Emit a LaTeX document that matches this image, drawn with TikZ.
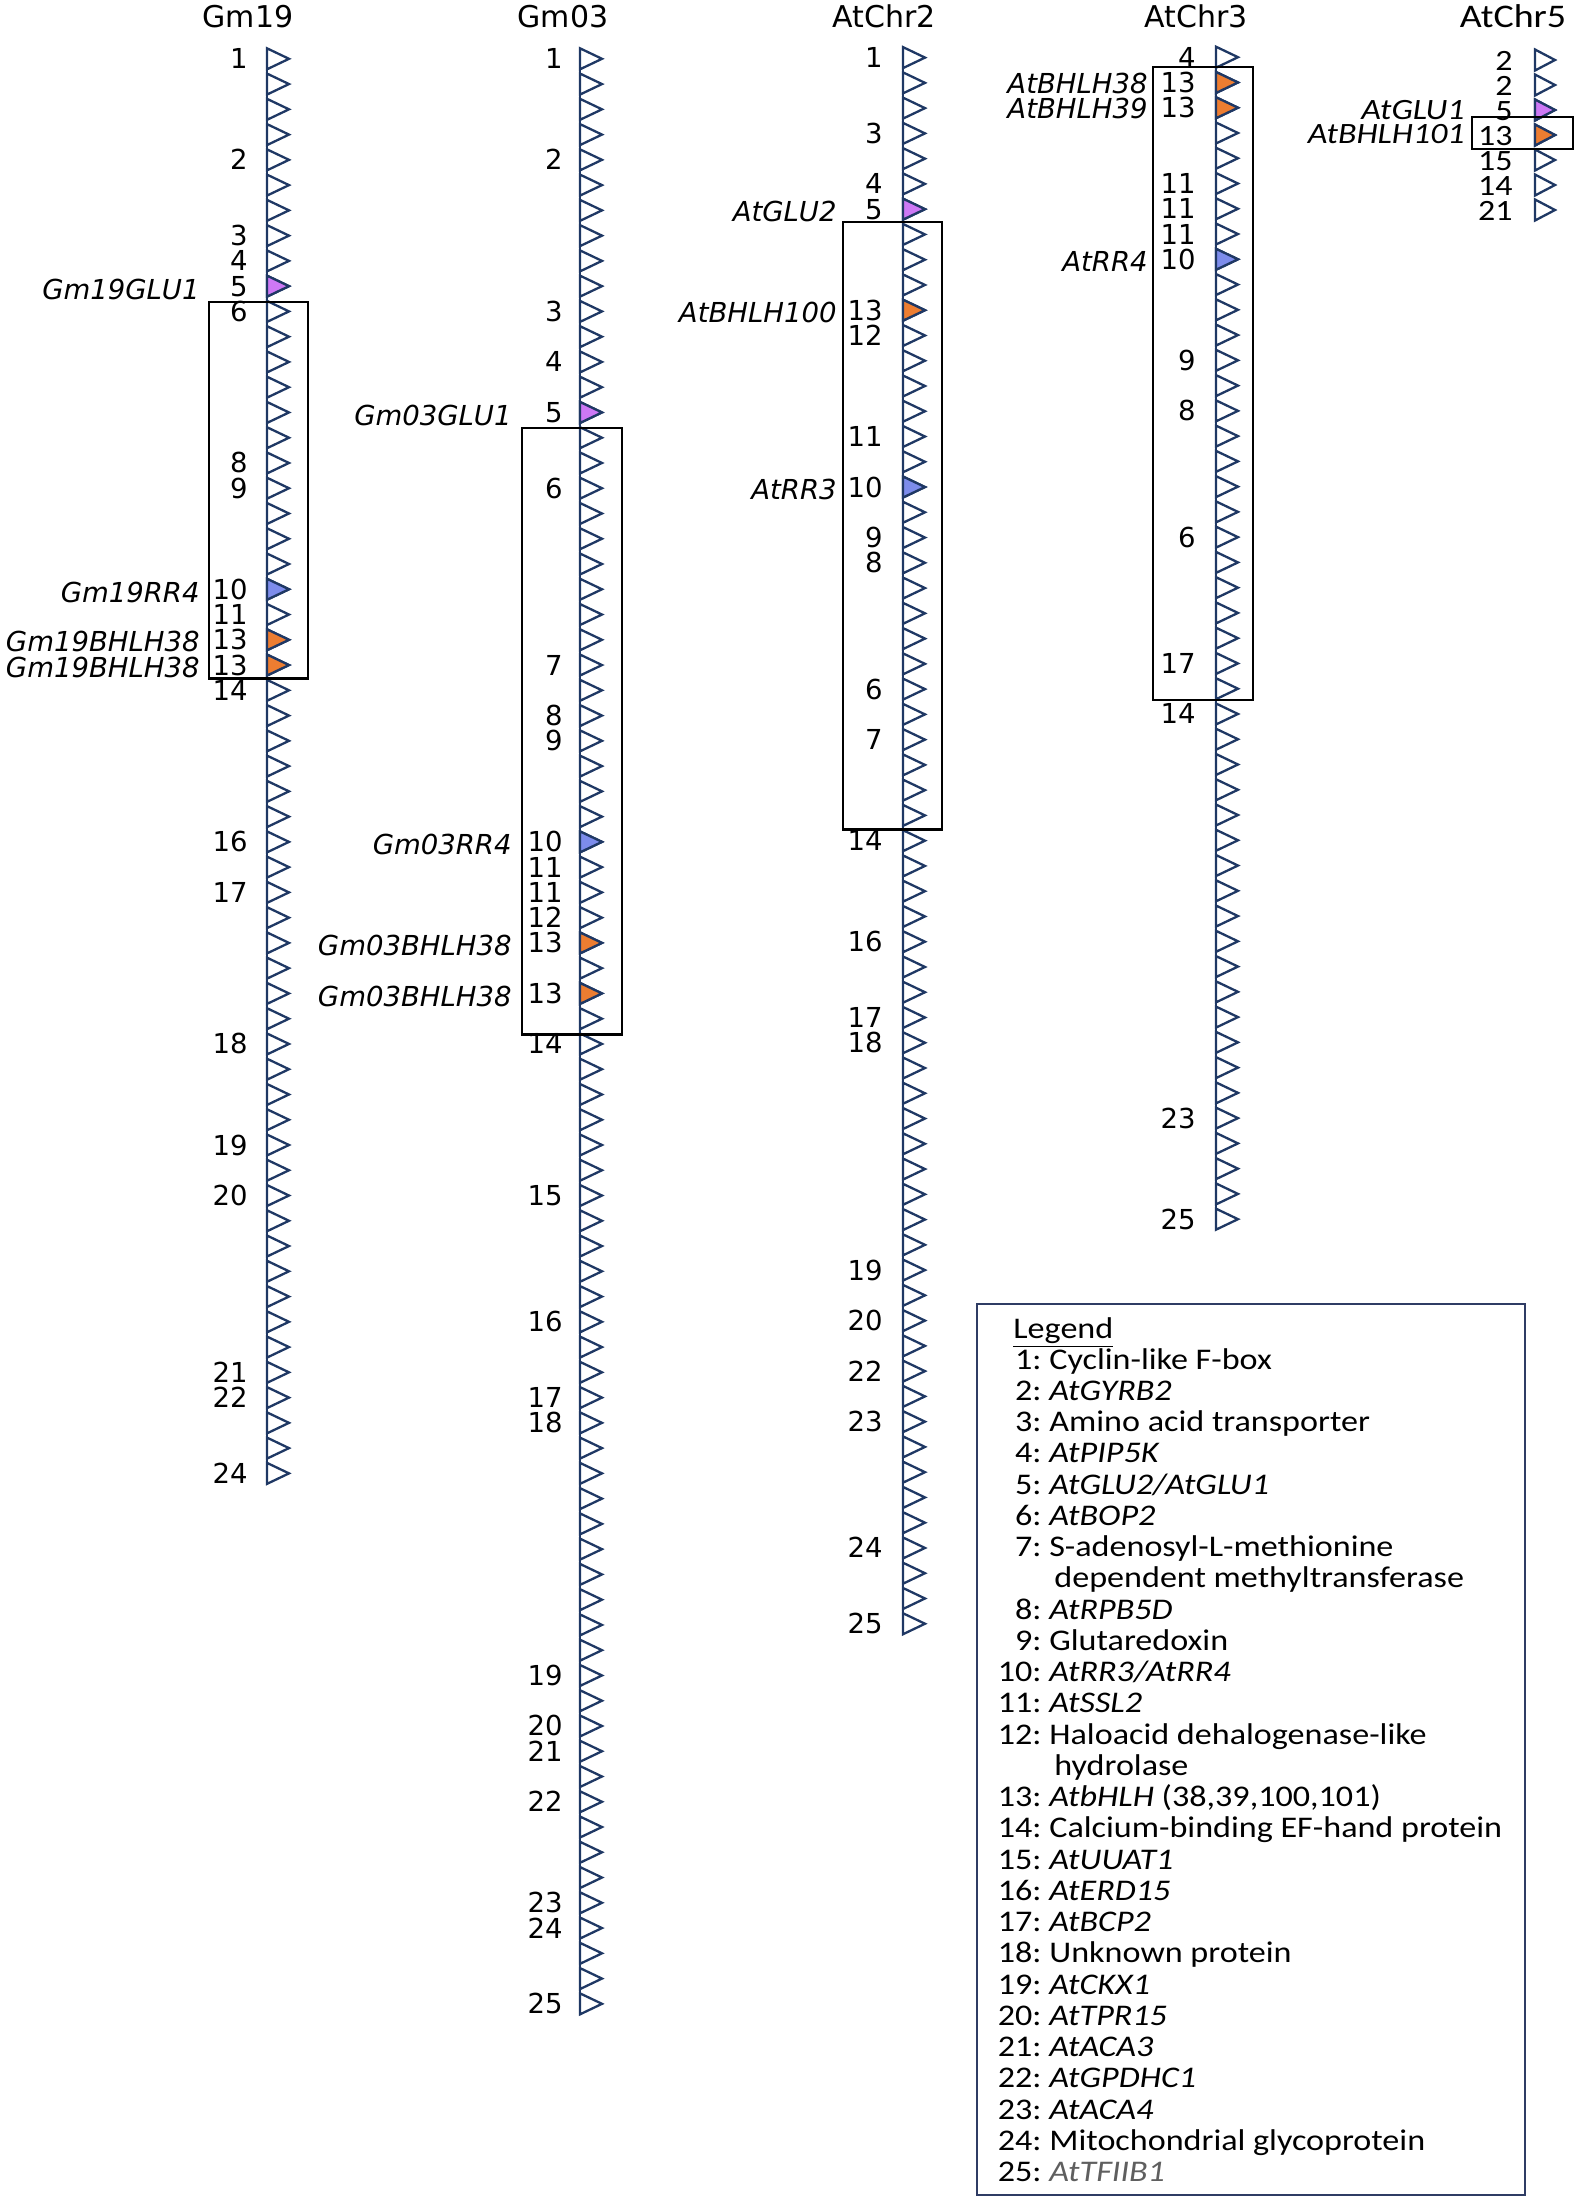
\documentclass[tikz,border=0pt]{standalone}
\usepackage{fontspec}
\newfontfamily\dvfont{DejaVu Sans}
\newfontfamily\calfont[FakeStretch=1.15]{Carlito}
\newfontfamily\legfont[FakeStretch=1.137]{Carlito}
\definecolor{navy}{RGB}{31,56,100}
\definecolor{glucol}{RGB}{205,120,245}
\definecolor{rrcol}{RGB}{125,140,235}
\definecolor{bhcol}{RGB}{237,125,49}
\definecolor{legframe}{RGB}{47,60,100}
\definecolor{leggray}{RGB}{95,95,95}
\newcommand{\tricolumn}[6]{%
  \foreach \k in {0,...,#4}{%
    \draw[tri] (#1,{#2+\k*#3-#6}) -- (#1+#5,{#2+\k*#3}) -- (#1,{#2+\k*#3+#6}) -- cycle;}}
\newcommand{\ctri}[7]{%
  \draw[tri,fill=#7] (#1,{#2+#4*#3-#6}) -- (#1+#5,{#2+#4*#3}) -- (#1,{#2+#4*#3+#6}) -- cycle;}
\newcommand{\legitem}[3]{%
  \node[legnum] (ln#1) at (1042,{1338+#1*31.24}) {#2:};
  \node[legtxt] (lt#1) at (1049,{1338+#1*31.24}) {#3};}
\begin{document}
\begin{tikzpicture}[x=0.5pt,y=-0.5pt,
  tri/.style={draw=navy,line width=1.15pt,fill=white,line join=miter},
  spine/.style={draw=navy,line width=1.15pt},
  numlab/.style={anchor=east,inner sep=0pt,font=\dvfont\fontsize{13.75}{16}\selectfont,text height=10pt,text depth=0pt},
  genelab/.style={anchor=east,inner sep=0pt,font=\dvfont\itshape\fontsize{13.75}{16}\selectfont,text height=10pt,text depth=0pt},
  coltitle/.style={inner sep=0pt,font=\dvfont\fontsize{15}{18}\selectfont,text height=11pt,text depth=0pt},
  cnumlab/.style={anchor=east,inner sep=0pt,font=\calfont\fontsize{14.75}{17}\selectfont,text height=9.3pt,text depth=0pt},
  cgenelab/.style={anchor=east,inner sep=0pt,font=\calfont\itshape\fontsize{14.75}{17}\selectfont,text height=9.3pt,text depth=0pt},
  ctitle/.style={inner sep=0pt,font=\calfont\fontsize{16.5}{19}\selectfont,text height=10.6pt,text depth=0pt},
  blockbox/.style={draw=black,line width=1.3pt},
  legnum/.style={anchor=base east,inner sep=0pt,font=\legfont\fontsize{15}{18}\selectfont},
  legtxt/.style={anchor=base west,inner sep=0pt,font=\legfont\fontsize{15}{18}\selectfont}]
\useasboundingbox (0,0) rectangle (1576,2208);

% ---------------- Gm19 ----------------
\node[coltitle] (t19) at (248,16) {Gm19};
\draw[spine] (267,{58.8-10.5}) -- (267,{58.8+56*25.26+10.5});
\tricolumn{267}{58.8}{25.26}{56}{22}{10.5}
\ctri{267}{58.8}{25.26}{9}{22}{10.5}{glucol}
\ctri{267}{58.8}{25.26}{21}{22}{10.5}{rrcol}
\ctri{267}{58.8}{25.26}{23}{22}{10.5}{bhcol}
\ctri{267}{58.8}{25.26}{24}{22}{10.5}{bhcol}
\foreach \k/\t in {0/1,4/2,7/3,8/4,9/5,10/6,16/8,17/9,21/10,22/11,23/13,24/13,25/14,31/16,33/17,39/18,43/19,45/20,52/21,53/22,56/24}
  \node[numlab] (g19n\k) at (248,{58.8+\k*25.26}) {\t};
\node[genelab] (g19glu) at (200,{58.8+9*25.26+3}) {Gm19GLU1};
\node[genelab] (g19rr) at (200,{58.8+21*25.26+3}) {Gm19RR4};
\node[genelab] (g19bha) at (200,{58.8+23*25.26+2}) {Gm19BHLH38};
\node[genelab] (g19bhb) at (200,{58.8+24*25.26+2}) {Gm19BHLH38};
\draw[blockbox] (209,302) rectangle (308,678.6);

% ---------------- Gm03 ----------------
\node[coltitle] (t03) at (563,16) {Gm03};
\draw[spine] (580,{58.8-10.5}) -- (580,{58.8+77*25.26+10.5});
\tricolumn{580}{58.8}{25.26}{77}{22}{10.5}
\ctri{580}{58.8}{25.26}{14}{22}{10.5}{glucol}
\ctri{580}{58.8}{25.26}{31}{22}{10.5}{rrcol}
\ctri{580}{58.8}{25.26}{35}{22}{10.5}{bhcol}
\ctri{580}{58.8}{25.26}{37}{22}{10.5}{bhcol}
\foreach \k/\t in {0/1,4/2,10/3,12/4,14/5,17/6,24/7,26/8,27/9,31/10,32/11,33/11,34/12,35/13,37/13,39/14,45/15,50/16,53/17,54/18,64/19,66/20,67/21,69/22,73/23,74/24,77/25}
  \node[numlab] (g03n\k) at (563,{58.8+\k*25.26}) {\t};
\node[genelab] (g03glu) at (512,{58.8+14*25.26+3}) {Gm03GLU1};
\node[genelab] (g03rr) at (512,{58.8+31*25.26+3}) {Gm03RR4};
\node[genelab] (g03bha) at (512,{58.8+35*25.26+3}) {Gm03BHLH38};
\node[genelab] (g03bhb) at (512,{58.8+37*25.26+3}) {Gm03BHLH38};
\draw[blockbox] (522,428) rectangle (622,1034.5);

% ---------------- AtChr2 ----------------
\node[coltitle] (tc2) at (884,16) {AtChr2};
\draw[spine] (903,{57.6-10.5}) -- (903,{57.6+62*25.26+10.5});
\tricolumn{903}{57.6}{25.26}{62}{22}{10.5}
\ctri{903}{57.6}{25.26}{6}{22}{10.5}{glucol}
\ctri{903}{57.6}{25.26}{10}{22}{10.5}{bhcol}
\ctri{903}{57.6}{25.26}{17}{22}{10.5}{rrcol}
\foreach \k/\t in {0/1,3/3,5/4,6/5,10/13,11/12,15/11,17/10,19/9,20/8,25/6,27/7,31/14,35/16,38/17,39/18,48/19,50/20,52/22,54/23,59/24,62/25}
  \node[numlab] (c2n\k) at (883,{57.6+\k*25.26}) {\t};
\node[genelab] (c2glu) at (837,{57.6+6*25.26+2}) {AtGLU2};
\node[genelab] (c2bh) at (837,{57.6+10*25.26+2}) {AtBHLH100};
\node[genelab] (c2rr) at (837,{57.6+17*25.26+2}) {AtRR3};
\draw[blockbox] (843,222) rectangle (942,829.4);

% ---------------- AtChr3 ----------------
\node[coltitle] (tc3) at (1196,16) {AtChr3};
\draw[spine] (1216,{57.2-10.5}) -- (1216,{57.2+46*25.26+10.5});
\tricolumn{1216}{57.2}{25.26}{46}{22}{10.5}
\ctri{1216}{57.2}{25.26}{1}{22}{10.5}{bhcol}
\ctri{1216}{57.2}{25.26}{2}{22}{10.5}{bhcol}
\ctri{1216}{57.2}{25.26}{8}{22}{10.5}{rrcol}
\foreach \k/\t in {0/4,1/13,2/13,5/11,6/11,7/11,8/10,12/9,14/8,19/6,24/17,26/14,42/23,46/25}
  \node[numlab] (c3n\k) at (1196,{57.2+\k*25.26}) {\t};
\node[genelab] (c3bha) at (1148,{57.2+1*25.26+1}) {AtBHLH38};
\node[genelab] (c3bhb) at (1148,{57.2+2*25.26+1}) {AtBHLH39};
\node[genelab] (c3rr) at (1148,{57.2+8*25.26+2}) {AtRR4};
\draw[blockbox] (1153,67) rectangle (1253,700);

% ---------------- AtChr5 ----------------
\node[ctitle] (tc5) at (1513,17) {AtChr5};
\tricolumn{1535}{60}{25}{6}{20}{10.5}
\ctri{1535}{60}{25}{2}{20}{10.5}{glucol}
\ctri{1535}{60}{25}{3}{20}{10.5}{bhcol}
\foreach \k/\t in {0/2,1/2,2/5,3/13,4/15,5/14,6/21}
  \node[cnumlab] (c5n\k) at (1513,{60+\k*25+1}) {\t};
\node[cgenelab] (c5glu) at (1465,{60+2*25}) {AtGLU1};
\node[cgenelab] (c5bh) at (1465,{60+3*25-1}) {AtBHLH101};
\draw[blockbox] (1472,117) rectangle (1573,149);

% ---------------- Legend ----------------
\draw[draw=legframe,line width=1pt] (977,1304) rectangle (1525,2195);
\node[legtxt] (lhead) at (1013,1338) {\underline{Legend}};
\legitem{1}{1}{Cyclin-like F-box}
\legitem{2}{2}{\itshape AtGYRB2}
\legitem{3}{3}{Amino acid transporter}
\legitem{4}{4}{\itshape AtPIP5K}
\legitem{5}{5}{\itshape AtGLU2/AtGLU1}
\legitem{6}{6}{\itshape AtBOP2}
\legitem{7}{7}{S-adenosyl-L-methionine}
\node[legtxt] (lt8) at (1054,{1338+8*31.24}) {dependent methyltransferase};
\legitem{9}{8}{\itshape AtRPB5D}
\legitem{10}{9}{Glutaredoxin}
\legitem{11}{10}{\itshape AtRR3/AtRR4}
\legitem{12}{11}{\itshape AtSSL2}
\legitem{13}{12}{Haloacid dehalogenase-like}
\node[legtxt] (lt14) at (1054,{1338+14*31.24}) {hydrolase};
\legitem{15}{13}{\textit{AtbHLH} (38,39,100,101)}
\legitem{16}{14}{Calcium-binding EF-hand protein}
\legitem{17}{15}{\itshape AtUUAT1}
\legitem{18}{16}{\itshape AtERD15}
\legitem{19}{17}{\itshape AtBCP2}
\legitem{20}{18}{Unknown protein}
\legitem{21}{19}{\itshape AtCKX1}
\legitem{22}{20}{\itshape AtTPR15}
\legitem{23}{21}{\itshape AtACA3}
\legitem{24}{22}{\itshape AtGPDHC1}
\legitem{25}{23}{\itshape AtACA4}
\legitem{26}{24}{Mitochondrial glycoprotein}
\legitem{27}{25}{\color{leggray}\itshape AtTFIIB1}
\end{tikzpicture}
\end{document}
